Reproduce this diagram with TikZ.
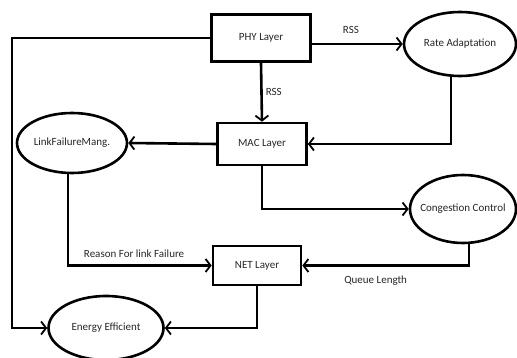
\documentclass[tikz,border=0pt]{standalone}
\usepackage{fontspec}
\setmainfont{Carlito}
\usetikzlibrary{shapes.geometric,arrows.meta}
\begin{document}
\begin{tikzpicture}[x=1pt,y=-1pt,
  every node/.style={font=\fontsize{11}{12}\selectfont,text=black!85},
  box/.style={draw,line width=2.6pt,rectangle,inner sep=0pt},
  ell/.style={draw,line width=2.6pt,ellipse,inner sep=0pt},
  arr/.style={line width=2.6pt,-{Straight Barb[length=5pt,width=13pt,line width=1.8pt]}},
  lbl/.style={inner sep=1pt}]
\useasboundingbox (0,0) rectangle (517,358);
\node[box,minimum width=99pt,minimum height=47pt] (phy) at (261,38) {PHY Layer};
\node[box,minimum width=89pt,minimum height=42pt] (mac) at (262,144) {MAC Layer};
\node[box,minimum width=88pt,minimum height=39pt] (net) at (257,265.5) {NET Layer};
\node[ell,minimum width=112pt,minimum height=64pt] (rate) at (460,44) {Rate Adaptation};
\node[ell,minimum width=110pt,minimum height=60pt] (link) at (72,143) {LinkFailureMang.};
\node[ell,inner xsep=-7pt,minimum width=106pt,minimum height=68pt] (cong) at (463,209) {Congestion Control};
\node[ell,minimum width=115pt,minimum height=64pt] (energy) at (106,328) {Energy Efficient};
\coordinate (lc) at (12,38);
\draw[arr] (phy.east |- rate.west) -- node[lbl,pos=0.43,above=8pt] {RSS} (rate.west);
\draw[arr] (phy.south) -- node[lbl,right=2pt] {RSS} (mac.north);
\draw[arr] ([xshift=-9pt]rate.south) |- (mac.east);
\draw[arr] (mac.west) -- (link.east);
\draw[arr] ([xshift=-4pt]link.south) |- node[lbl,pos=0.73,above=6pt] {Reason For link Failure} (net.west);
\draw[arr] (mac.south) |- (cong.west);
\draw[arr] ([xshift=6pt]cong.south) |- node[lbl,pos=0.78,below=8pt] {Queue Length} (net.east);
\draw[arr] (net.south) |- (energy.east);
\draw[arr] (phy.west) -- (lc) |- (energy.west);
\end{tikzpicture}
\end{document}
